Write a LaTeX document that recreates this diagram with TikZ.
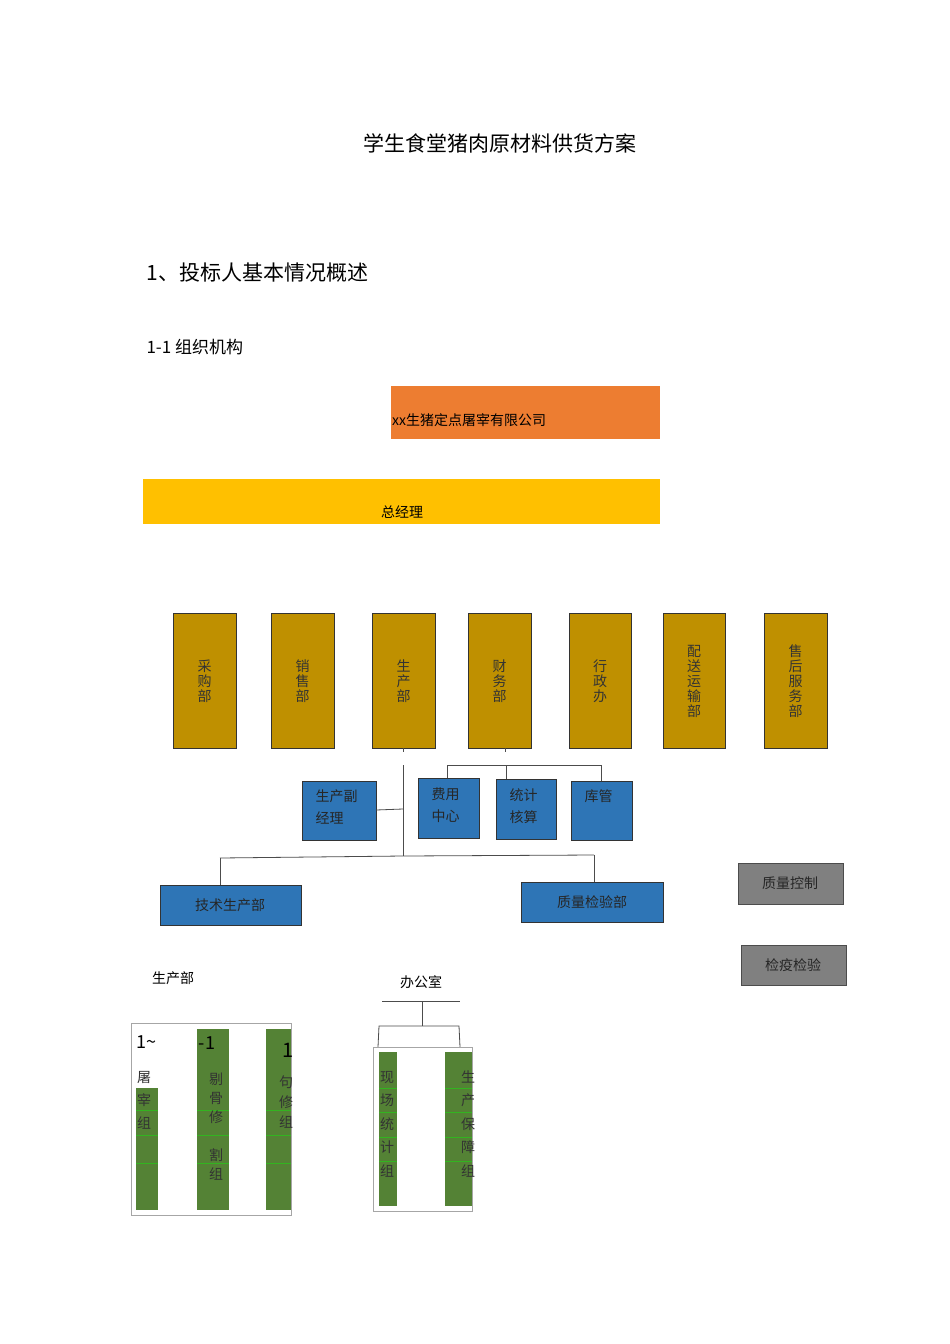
\documentclass[tikz,border=0pt]{standalone}
\usepackage{fontspec}
\setmainfont{Noto Sans CJK SC}
\begin{document}
\begin{tikzpicture}[x=1pt,y=-1pt,
  gold/.style={draw=black!80,fill=gbox,line width=0.8pt},
  blue/.style={draw=black!80,fill=bbox,line width=0.8pt},
  gray/.style={draw=black!70,fill=gbox2,line width=0.8pt},
  grn/.style={fill=gcol},
  ln/.style={draw=black!70,line width=0.8pt},
  vt/.style={font=\fontsize{14}{15}\selectfont,align=center,text=black!80},
  bt/.style={font=\fontsize{14}{22}\selectfont,align=left,text=black!85}]
\definecolor{gbox}{HTML}{BF9000}
\definecolor{bbox}{HTML}{2E75B6}
\definecolor{gbox2}{HTML}{808080}
\definecolor{gcol}{HTML}{548235}
\definecolor{orng}{HTML}{ED7D31}
\definecolor{ylw}{HTML}{FFC000}
\useasboundingbox (0,0) rectangle (950,1344);
\fill[white] (0,0) rectangle (950,1344);
\node[font=\fontsize{21}{24}\selectfont] (title) at (500,143) {学生食堂猪肉原材料供货方案};
\node[anchor=west,font=\fontsize{21}{24}\selectfont] (h1) at (143,273) {1、投标人基本情况概述};
\node[anchor=west,font=\fontsize{17}{20}\selectfont] (h2) at (143,347) {1-1 组织机构};
\fill[orng] (391,386) rectangle (660,439);
\node[anchor=west,font=\fontsize{14}{16}\selectfont,inner sep=0] (co) at (392,420) {xx生猪定点屠宰有限公司};
\fill[ylw] (143,479) rectangle (660,524);
\node[font=\fontsize{14}{16}\selectfont] (gm) at (402,512) {总经理};
% gold departments
\foreach \xa/\xb/\t/\n in {173/236/采\\购\\部/d1,271/334/销\\售\\部/d2,372/435/生\\产\\部/d3,468/531/财\\务\\部/d4,569/631/行\\政\\办/d5,663/725/配\\送\\运\\输\\部/d6,764/827/售\\后\\服\\务\\部/d7}{
  \draw[gold] (\xa,613) rectangle (\xb,748);
  \node[vt] (\n) at ({(\xa+\xb)/2},681) {\t};
}
% blue boxes
\draw[blue] (302,781) rectangle (376,840);
\node[bt,anchor=north west] (fz) at (312,786) {生产副\\经理};
\draw[blue] (418,778) rectangle (479,838);
\node[bt,anchor=north west] (fy) at (428,784) {费用\\中心};
\draw[blue] (496,779) rectangle (556,839);
\node[bt,anchor=north west] (tj) at (506,785) {统计\\核算};
\draw[blue] (571,781) rectangle (632,840);
\node[bt,anchor=north west] (kg) at (581,786) {库管};
\draw[blue] (160,885) rectangle (301,925);
\node[bt] (js) at (230,905) {技术生产部};
\draw[blue] (521,882) rectangle (663,922);
\node[bt] (zl) at (592,902) {质量检验部};
\draw[gray] (738,863) rectangle (843,904);
\node[bt] (zk) at (790,883) {质量控制};
\draw[gray] (741,945) rectangle (846,985);
\node[bt] (jy) at (793,965) {检疫检验};
% connectors
\coordinate (c1) at (403,765); \coordinate (c2) at (403,856);
\draw[ln] (403,748) -- (403,752);
\draw[ln] (c1) -- (c2);
\draw[ln] (376,810) -- (403,809);
\draw[ln] (220,858) -- (403,856) -- (594,855);
\draw[ln] (220,858) -- (220,885);
\draw[ln] (594,855) -- (594,882);
\draw[ln] (505,748) -- (505,752);
\draw[ln] (447,778) -- (447,765) -- (601,765) -- (601,781);
\draw[ln] (506,765) -- (506,779);
% bottom section
\node[font=\fontsize{14}{16}\selectfont] (scb) at (173,978) {生产部};
\node[font=\fontsize{14}{16}\selectfont] (bgs) at (421,982) {办公室};
\draw[ln] (382,1001) -- (460,1001);
\draw[ln] (422,1001) -- (422,1026);
\draw[ln] (378,1047) -- (379,1026) -- (459,1026) -- (460,1047);
\draw[black!35] (131,1023) rectangle (291,1215);
\fill[grn] (136,1088) rectangle (158,1210);
\fill[grn] (197,1029) rectangle (229,1210);
\fill[grn] (266,1029) rectangle (291,1210);
\foreach \y in {1110,1135,1163}{
  \draw[green!40!gcol,line width=0.4pt] (136,\y) -- (158,\y);
  \draw[green!40!gcol,line width=0.4pt] (197,\y) -- (229,\y);
  \draw[green!40!gcol,line width=0.4pt] (266,\y) -- (291,\y);}
\node[font=\fontsize{18}{18}\selectfont] (m1) at (207,1043) {-1};
\node[font=\fontsize{20}{20}\selectfont] (m2) at (288,1050) {1};
\node[font=\fontsize{18}{18}\selectfont] (m0) at (146,1042) {1\~{}};
\node[vt,font=\fontsize{14}{23}\selectfont] (g1) at (144,1100) {屠\\宰\\组};
\node[vt,font=\fontsize{14}{19}\selectfont] (g2) at (216,1127) {剔\\骨\\修\\\\割\\组};
\node[vt,font=\fontsize{14}{20}\selectfont] (g3) at (286,1102) {句\\修\\组};
\draw[black!35] (373,1047) rectangle (472,1211);
\fill[grn] (379,1052) rectangle (397,1206);
\fill[grn] (445,1052) rectangle (472,1206);
\foreach \y in {1088,1112,1137,1161}{
  \draw[green!40!gcol,line width=0.4pt] (379,\y) -- (397,\y);
  \draw[green!40!gcol,line width=0.4pt] (445,\y) -- (472,\y);}
\node[vt,font=\fontsize{14}{23.5}\selectfont] (g4) at (387,1124) {现\\场\\统\\计\\组};
\node[vt,font=\fontsize{14}{23.5}\selectfont] (g5) at (468,1124) {生\\产\\保\\障\\组};
\end{tikzpicture}
\end{document}
